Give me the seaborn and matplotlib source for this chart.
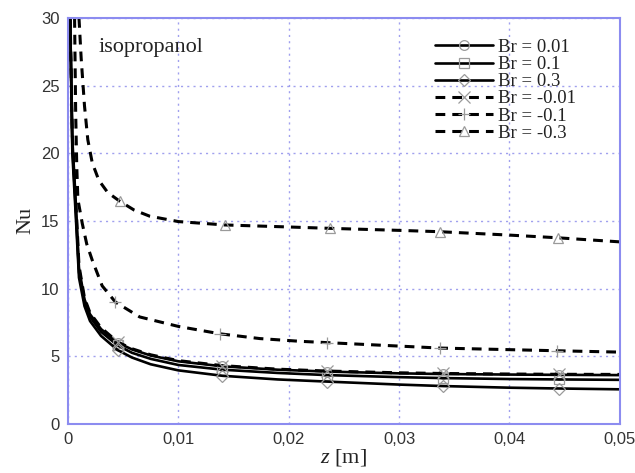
import numpy as np
import pandas as pd
import matplotlib
matplotlib.use("Agg")
import matplotlib.pyplot as plt
import seaborn as sns

# ---- data ----
z_pos = [0.0002, 0.0004, 0.0007, 0.001, 0.0015, 0.002, 0.003, 0.0045, 0.0058, 0.0075,
         0.01, 0.014, 0.019, 0.0235, 0.03, 0.034, 0.04, 0.0445, 0.05]
nu_br001 = [30.0, 21.0, 16.5, 11.5, 9.2, 8.1, 7.0, 6.0, 5.5, 5.05,
            4.62, 4.25, 4.0, 3.86, 3.73, 3.68, 3.64, 3.62, 3.6]
nu_br01 = [30.0, 20.5, 16.0, 11.2, 9.0, 7.9, 6.8, 5.8, 5.25, 4.8,
           4.35, 4.0, 3.76, 3.6, 3.45, 3.38, 3.31, 3.28, 3.25]
nu_br03 = [30.0, 20.0, 15.5, 10.8, 8.7, 7.6, 6.5, 5.45, 4.9, 4.4,
           3.95, 3.55, 3.28, 3.12, 2.9, 2.79, 2.67, 2.61, 2.55]
nu_brm001 = [30.0, 21.3, 16.7, 11.7, 9.3, 8.2, 7.1, 6.05, 5.55, 5.1,
             4.67, 4.3, 4.04, 3.9, 3.77, 3.72, 3.68, 3.66, 3.65]

z_m01 = [0.0006, 0.0007, 0.0008, 0.0009, 0.0013, 0.0017, 0.0022, 0.0031, 0.0043, 0.0065,
         0.01, 0.0138, 0.0174, 0.021, 0.0235, 0.0337, 0.0443, 0.05]
nu_brm01 = [30.0, 23.0, 19.0, 16.6, 14.8, 13.3, 12.1, 10.2, 9.0, 7.9,
            7.2, 6.65, 6.3, 6.1, 6.0, 5.6, 5.4, 5.3]

z_m03 = [0.001, 0.0012, 0.0015, 0.0018, 0.0022, 0.0028, 0.0036, 0.0047, 0.006, 0.0074,
         0.01, 0.0142, 0.02, 0.0237, 0.03, 0.0337, 0.04, 0.0444, 0.05]
nu_brm03 = [30.0, 27.0, 23.5, 21.0, 19.3, 18.0, 17.1, 16.45, 15.8, 15.35,
            14.95, 14.7, 14.55, 14.45, 14.3, 14.2, 13.95, 13.75, 13.45]

labels = ["Br = 0.01", "Br = 0.1", "Br = 0.3", "Br = -0.01", "Br = -0.1", "Br = -0.3"]
x_ticks = [0, 0.01, 0.02, 0.03, 0.04, 0.05]
x_tick_labels = ["0", "0,01", "0,02", "0,03", "0,04", "0,05"]
y_ticks = [0, 5, 10, 15, 20, 25, 30]

series = [
    (z_pos, nu_br001, labels[0], "-", "o", [7, 11, 13, 15, 17]),
    (z_pos, nu_br01, labels[1], "-", "s", [7, 11, 13, 15, 17]),
    (z_pos, nu_br03, labels[2], "-", "D", [7, 11, 13, 15, 17]),
    (z_pos, nu_brm001, labels[3], "--", "x", [7, 11, 13, 15, 17]),
    (z_m01, nu_brm01, labels[4], "--", "+", [8, 11, 14, 15, 16]),
    (z_m03, nu_brm03, labels[5], "--", "^", [7, 11, 13, 15, 17]),
]

sns.set_style("white")
plt.rcParams["mathtext.fontset"] = "custom"
plt.rcParams["mathtext.it"] = "Liberation Serif:italic"
plt.rcParams["mathtext.rm"] = "Liberation Serif"

fig = plt.figure(figsize=(6.35, 4.73), dpi=100)
ax = fig.add_axes([0.107, 0.104, 0.869, 0.858])

for zx, nu, lab, ls, mk, me in series:
    df = pd.DataFrame({"z": zx, "Nu": nu})
    msize = 7 if mk in ("o", "s", "^") else (6 if mk == "D" else 8)
    sns.lineplot(data=df, x="z", y="Nu", ax=ax, sort=False, color="black",
                 linestyle=ls, linewidth=1.9 if ls == "-" else 2.2,
                 marker=mk, markevery=me, markersize=msize,
                 markerfacecolor="none", markeredgecolor="#9a9a9a",
                 markeredgewidth=0.9, label=lab, clip_on=True)

for line in ax.get_lines():
    if line.get_linestyle() == "--":
        line.set_dashes((3.2, 2.3))

ax.set_xlim(0, 0.05)
ax.set_ylim(0, 30)
ax.set_xticks(x_ticks)
ax.set_xticklabels(x_tick_labels)
ax.set_yticks(y_ticks)
ax.tick_params(axis="both", labelsize=12, colors="#333333", length=0, pad=6)
for lbl in ax.get_xticklabels() + ax.get_yticklabels():
    lbl.set_family(["Liberation Sans", "DejaVu Sans"])

ax.grid(True, linestyle=(0, (1.5, 3)), color="#a0a0ee", linewidth=1.0)
for sp in ax.spines.values():
    sp.set_color("#8c8cf0")
    sp.set_linewidth(1.5)

ax.set_xlabel(r"$z$ [m]", family="Liberation Serif", fontsize=16, labelpad=0)
ax.set_ylabel("Nu", family="Liberation Serif", fontsize=16, labelpad=4)
ax.xaxis.label.set_color("#222222")
ax.yaxis.label.set_color("#222222")

ax.text(0.0028, 27.8, "isopropanol", family="Liberation Serif", fontsize=16,
        color="#222222", va="center")

leg = ax.legend(loc="upper left", bbox_to_anchor=(0.635, 0.99), frameon=False,
                prop={"family": "Liberation Serif", "size": 13.5},
                handlelength=3.1, handletextpad=0.25, labelspacing=0.0,
                numpoints=1)
for t in leg.get_texts():
    t.set_color("#222222")

fig.savefig("out.png", dpi=100)
